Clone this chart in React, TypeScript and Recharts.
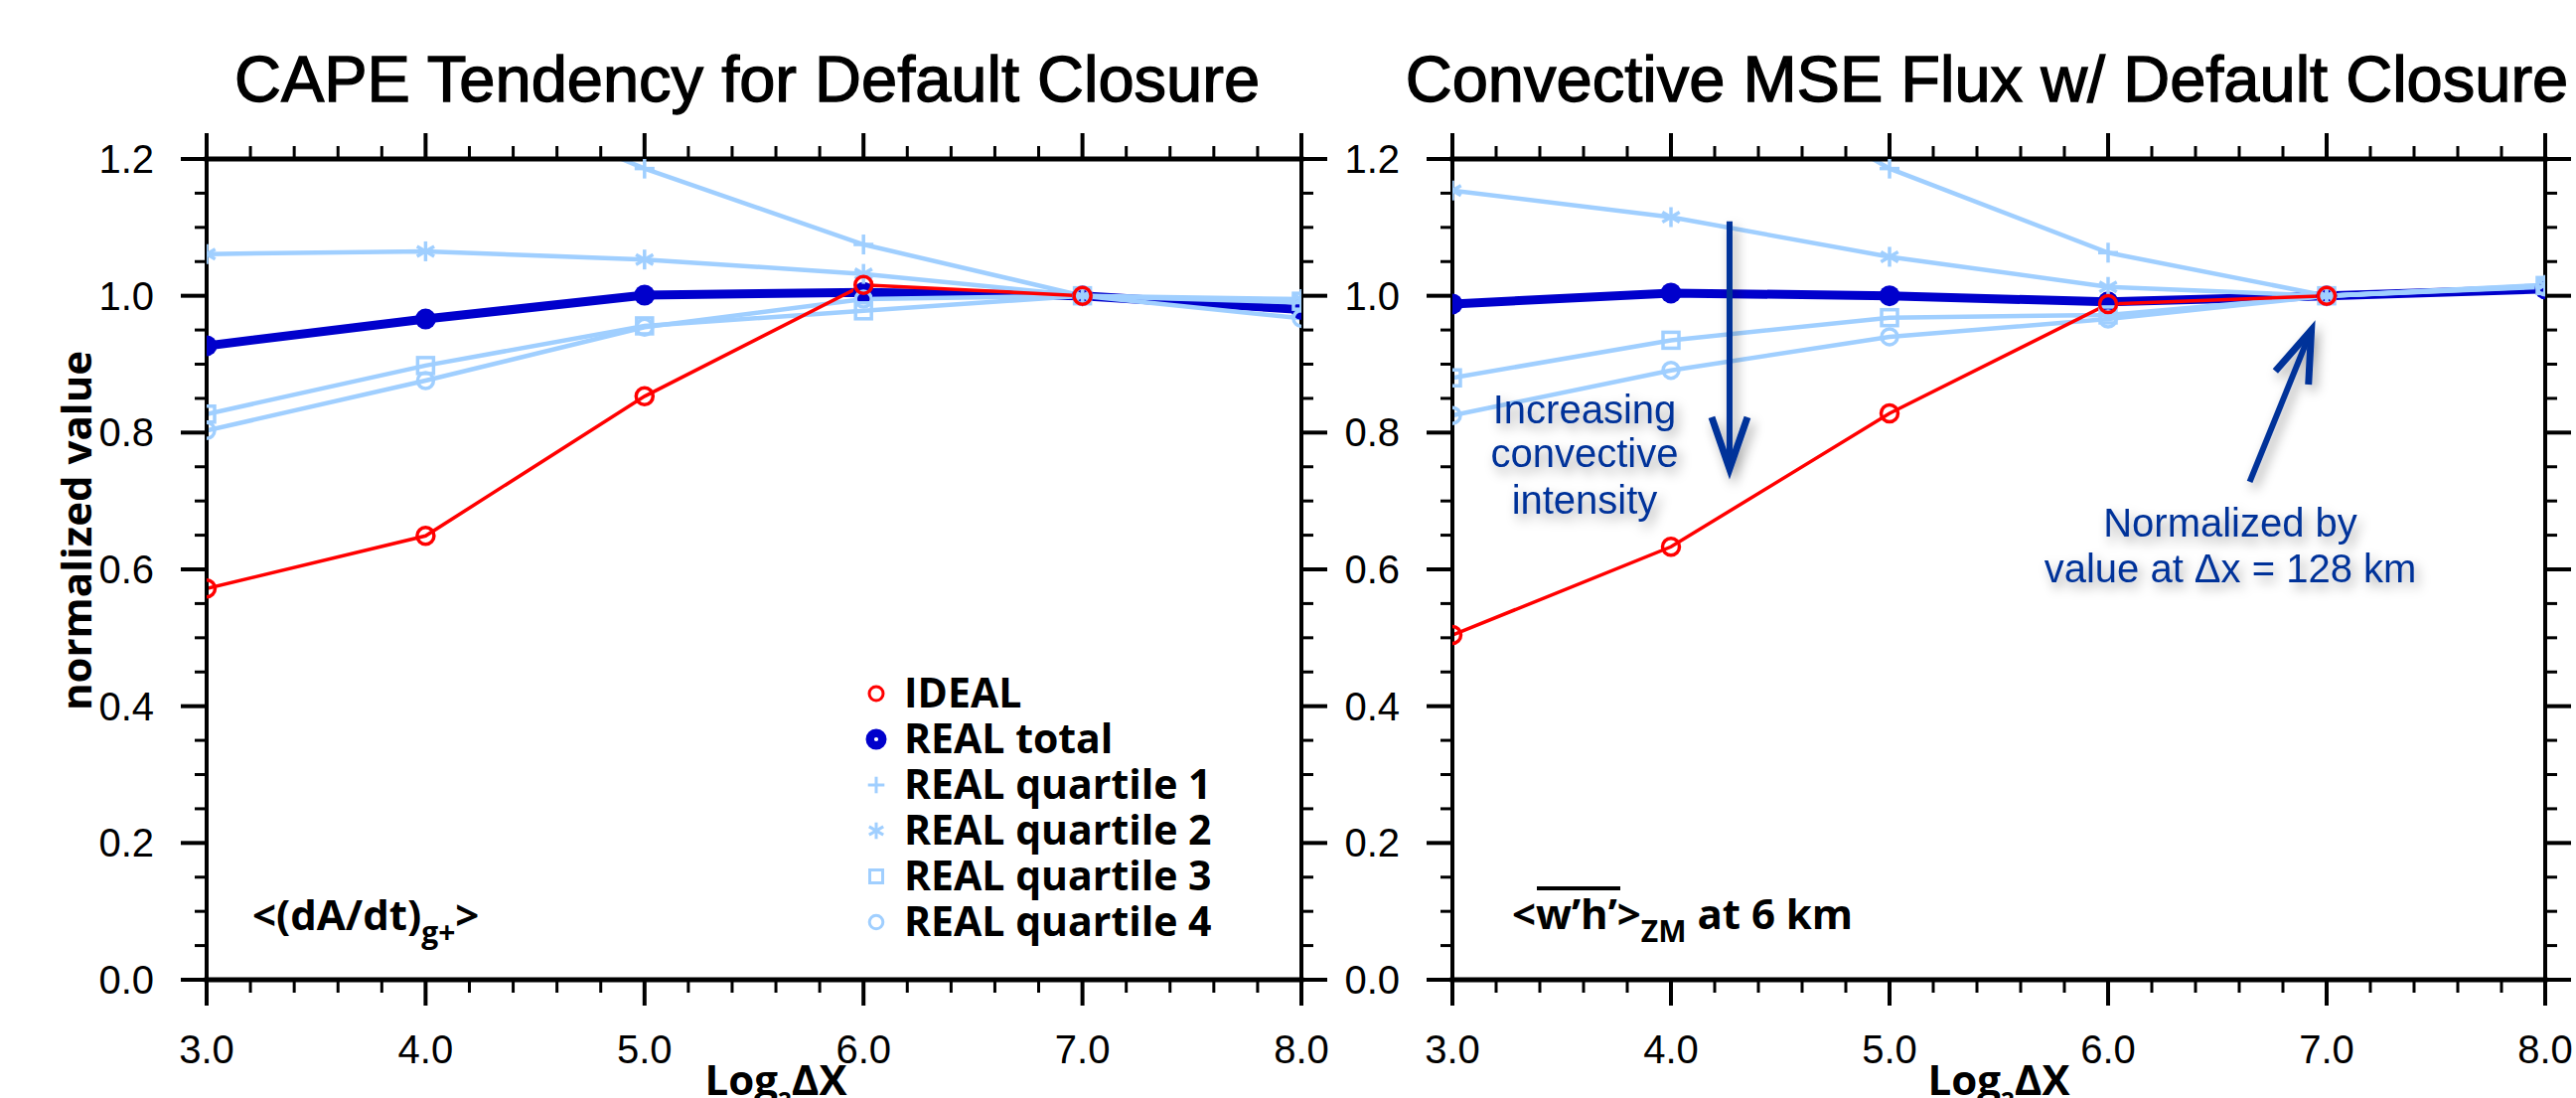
import React from 'react';
import { LineChart, Line, XAxis, YAxis, ReferenceLine } from 'recharts';

// x positions: log2 of grid spacing
const logDx = [3, 4, 5, 6, 7, 8];

// left panel: CAPE tendency
const capeIdeal = [0.572, 0.649, 0.853, 1.016, 1.0, null];
const capeTotal = [0.927, 0.966, 1.001, 1.005, 1.0, 0.98];
const capeQ1 = [1.46, 1.32, 1.186, 1.075, 1.0, 0.99];
const capeQ2 = [1.061, 1.065, 1.053, 1.032, 1.0, 0.995];
const capeQ3 = [0.827, 0.898, 0.956, 0.978, 1.0, 0.992];
const capeQ4 = [0.803, 0.876, 0.954, 0.995, 1.0, 0.967];

// right panel: convective MSE flux
const mseIdeal = [0.504, 0.633, 0.828, 0.988, 1.0, null];
const mseTotal = [0.988, 1.004, 1.0, 0.991, 1.0, 1.01];
const mseQ1 = [1.52, 1.37, 1.186, 1.063, 1.0, 1.014];
const mseQ2 = [1.154, 1.115, 1.057, 1.013, 1.0, 1.016];
const mseQ3 = [0.88, 0.935, 0.968, 0.972, 1.0, 1.015];
const mseQ4 = [0.825, 0.891, 0.94, 0.966, 1.0, 1.013];

const xMajorTicks = [3, 4, 5, 6, 7, 8];
const yMajorTicks = [0, 0.2, 0.4, 0.6, 0.8, 1.0, 1.2];

const seriesKeys = ['ideal', 'total', 'q1', 'q2', 'q3', 'q4'] as const;
const seriesNames = ['IDEAL', 'REAL total', 'REAL quartile 1', 'REAL quartile 2', 'REAL quartile 3', 'REAL quartile 4'];

type Kind = (typeof seriesKeys)[number];

const RED = '#FF0000';
const BLUE = '#0000CC';
const LIGHT = '#A0CFFF';
const NAVY = '#003399';
const SANS = "'Liberation Sans', Arial, Helvetica, sans-serif";
const BOLD = "'Open Sans', 'Noto Sans', sans-serif";

const Y_MAX = 1.2;

function withMinors(major: number[], parts: number) {
  const out: number[] = [];
  major.forEach((m, i) => {
    out.push(m);
    const next = major[i + 1];
    if (next === undefined) return;
    for (let k = 1; k < parts; k++) out.push(+(m + ((next - m) * k) / parts).toFixed(4));
  });
  return out;
}

const xTicks = withMinors(xMajorTicks, 5);
const yTicks = withMinors(yMajorTicks, 4);

const isMajor = (list: number[], v: number) => list.some((m) => Math.abs(m - v) < 1e-6);

function Marker({ kind, cx, cy, legend = false }: { kind: Kind; cx: number; cy: number; legend?: boolean }) {
  const sw = legend ? 3 : 3.5;
  switch (kind) {
    case 'ideal':
      return <circle cx={cx} cy={cy} r={legend ? 7 : 8.5} fill="none" stroke={RED} strokeWidth={sw} />;
    case 'total':
      return legend ? (
        <circle cx={cx} cy={cy} r={6.3} fill="none" stroke={BLUE} strokeWidth={8.4} />
      ) : (
        <circle cx={cx} cy={cy} r={10.5} fill={BLUE} />
      );
    case 'q1': {
      const h = legend ? 8.3 : 10;
      return (
        <g stroke={LIGHT} strokeWidth={sw}>
          <line x1={cx - h} y1={cy} x2={cx + h} y2={cy} />
          <line x1={cx} y1={cy - h} x2={cx} y2={cy + h} />
        </g>
      );
    }
    case 'q2': {
      const h = legend ? 8.3 : 10;
      const c = h * Math.cos(Math.PI / 6);
      const s = h * Math.sin(Math.PI / 6);
      return (
        <g stroke={LIGHT} strokeWidth={sw}>
          <line x1={cx} y1={cy - h} x2={cx} y2={cy + h} />
          <line x1={cx - c} y1={cy - s} x2={cx + c} y2={cy + s} />
          <line x1={cx - c} y1={cy + s} x2={cx + c} y2={cy - s} />
        </g>
      );
    }
    case 'q3': {
      const h = legend ? 6.5 : 8;
      return <rect x={cx - h} y={cy - h} width={2 * h} height={2 * h} fill="none" stroke={LIGHT} strokeWidth={sw} />;
    }
    default:
      return <circle cx={cx} cy={cy} r={legend ? 6.8 : 8} fill="none" stroke={LIGHT} strokeWidth={sw} />;
  }
}

const makeDot = (kind: Kind) => (props: any) => {
  const { cx, cy, value, index } = props;
  const v = Array.isArray(value) ? value[1] : value;
  if (v == null || cx == null || cy == null || v > Y_MAX) return <g key={`${kind}-${index}`} />;
  return (
    <g key={`${kind}-${index}`}>
      <Marker kind={kind} cx={cx} cy={cy} />
    </g>
  );
};

const BottomTick = (props: any) => {
  const { x, y, payload } = props;
  const major = isMajor(xMajorTicks, payload.value);
  return (
    <g>
      <line x1={x} y1={y} x2={x} y2={y + (major ? 26 : 13)} stroke="#000" strokeWidth={major ? 4 : 3} />
      {major && (
        <text x={x} y={y + 84} textAnchor="middle" fontSize={40} fontFamily={SANS} fill="#000">
          {Number(payload.value).toFixed(1)}
        </text>
      )}
    </g>
  );
};

const TopTick = (props: any) => {
  const { x, y, payload } = props;
  const major = isMajor(xMajorTicks, payload.value);
  return <line x1={x} y1={y} x2={x} y2={y - (major ? 26 : 13)} stroke="#000" strokeWidth={major ? 4 : 3} />;
};

const LeftTick = (props: any) => {
  const { x, y, payload } = props;
  const major = isMajor(yMajorTicks, payload.value);
  return (
    <g>
      <line x1={x} y1={y} x2={x - (major ? 26 : 12)} y2={y} stroke="#000" strokeWidth={major ? 4 : 3} />
      {major && (
        <text x={x - 53} y={y + 14} textAnchor="end" fontSize={40} fontFamily={SANS} fill="#000">
          {Number(payload.value).toFixed(1)}
        </text>
      )}
    </g>
  );
};

const RightTick = (props: any) => {
  const { x, y, payload } = props;
  const major = isMajor(yMajorTicks, payload.value);
  return <line x1={x} y1={y} x2={x + (major ? 26 : 12)} y2={y} stroke="#000" strokeWidth={major ? 4 : 3} />;
};

const ArrowShape = (props: any) => {
  const { x1, y1, x2, y2 } = props;
  if ([x1, y1, x2, y2].some((v) => v == null || isNaN(v))) return <g />;
  const len = Math.hypot(x2 - x1, y2 - y1) || 1;
  const ux = (x2 - x1) / len;
  const uy = (y2 - y1) / len;
  const px = -uy;
  const py = ux;
  const hl = 52;
  const hw = 18;
  const bx = x2 - ux * hl;
  const by = y2 - uy * hl;
  return (
    <g filter="url(#softShadow)">
      <line x1={x1} y1={y1} x2={x2 - ux * 6} y2={y2 - uy * 6} stroke={NAVY} strokeWidth={6} />
      <polyline
        points={`${bx + px * hw},${by + py * hw} ${x2},${y2} ${bx - px * hw},${by - py * hw}`}
        fill="none"
        stroke={NAVY}
        strokeWidth={7}
        strokeLinejoin="miter"
      />
    </g>
  );
};

type Series = Record<Kind, (number | null)[]>;

function Panel({
  width,
  margin,
  series,
  children,
}: {
  width: number;
  margin: { top: number; right: number; bottom: number; left: number };
  series: Series;
  children?: React.ReactNode;
}) {
  const rows = logDx.map((x, i) => {
    const row: Record<string, number | null> = { x };
    seriesKeys.forEach((k) => {
      row[k] = series[k][i];
    });
    return row;
  });

  const common = { type: 'number' as const, allowDataOverflow: true, interval: 0 as const, tickSize: 0, tickMargin: 0, tickLine: false };
  const frame = { stroke: '#000', strokeWidth: 5, strokeLinecap: 'square' as const };

  return (
    <LineChart width={width} height={1105} data={rows} margin={margin}>
      <XAxis {...common} dataKey="x" domain={[3, 8]} ticks={xTicks} height={1} axisLine={frame} tick={(p: any) => <BottomTick {...p} />} />
      <XAxis
        {...common}
        xAxisId="top"
        orientation="top"
        dataKey="x"
        domain={[3, 8]}
        ticks={xTicks}
        height={1}
        axisLine={frame}
        tick={(p: any) => <TopTick {...p} />}
      />
      <YAxis
        {...common}
        domain={[0, Y_MAX]}
        ticks={yTicks}
        width={1}
        axisLine={{ ...frame, strokeWidth: 4 }}
        tick={(p: any) => <LeftTick {...p} />}
      />
      <YAxis
        {...common}
        yAxisId="right"
        orientation="right"
        domain={[0, Y_MAX]}
        ticks={yTicks}
        width={1}
        axisLine={{ ...frame, strokeWidth: 4 }}
        tick={(p: any) => <RightTick {...p} />}
      />
      <Line dataKey="total" stroke={BLUE} strokeWidth={9} dot={makeDot('total')} activeDot={false} isAnimationActive={false} />
      <Line dataKey="q1" stroke={LIGHT} strokeWidth={4.5} dot={makeDot('q1')} activeDot={false} isAnimationActive={false} />
      <Line dataKey="q2" stroke={LIGHT} strokeWidth={4.5} dot={makeDot('q2')} activeDot={false} isAnimationActive={false} />
      <Line dataKey="q3" stroke={LIGHT} strokeWidth={4.5} dot={makeDot('q3')} activeDot={false} isAnimationActive={false} />
      <Line dataKey="q4" stroke={LIGHT} strokeWidth={4.5} dot={makeDot('q4')} activeDot={false} isAnimationActive={false} />
      <Line dataKey="ideal" stroke={RED} strokeWidth={3.5} dot={makeDot('ideal')} activeDot={false} isAnimationActive={false} />
      {children}
    </LineChart>
  );
}

const capeSeries: Series = { ideal: capeIdeal, total: capeTotal, q1: capeQ1, q2: capeQ2, q3: capeQ3, q4: capeQ4 };
const mseSeries: Series = { ideal: mseIdeal, total: mseTotal, q1: mseQ1, q2: mseQ2, q3: mseQ3, q4: mseQ4 };

// annotation arrows, in data units of the right panel
const intensityArrow = [
  { x: 4.268, y: 1.109 },
  { x: 4.268, y: 0.747 },
];
const normArrow = [
  { x: 6.648, y: 0.728 },
  { x: 6.93, y: 0.95 },
];

export default function App() {
  const legendTop = 698;
  const legendStep = 46;
  return (
    <div style={{ position: 'absolute', left: 0, top: 0, width: 2593, height: 1105, overflow: 'hidden', background: '#fff' }}>
      <div style={{ position: 'absolute', left: 0, top: 0 }}>
        <Panel width={1340} margin={{ top: 159, right: 29, bottom: 118, left: 207 }} series={capeSeries} />
      </div>
      <div style={{ position: 'absolute', left: 1340, top: 0 }}>
        <Panel width={1253} margin={{ top: 159, right: 30, bottom: 118, left: 121 }} series={mseSeries}>
          <ReferenceLine segment={intensityArrow} shape={ArrowShape} ifOverflow="visible" />
          <ReferenceLine segment={normArrow} shape={ArrowShape} ifOverflow="visible" />
        </Panel>
      </div>

      <svg width={2593} height={1105} style={{ position: 'absolute', left: 0, top: 0, pointerEvents: 'none' }}>
        <defs>
          <filter id="softShadow" x="-50%" y="-50%" width="200%" height="200%">
            <feDropShadow dx="4" dy="6" stdDeviation="6" floodColor="#000" floodOpacity="0.35" />
          </filter>
        </defs>

        <g fontSize={65} fontFamily={SANS} textAnchor="middle" stroke="#000" strokeWidth={1.3}>
          <text x={752} y={102}>CAPE Tendency for Default Closure</text>
          <text x={2000} y={102}>Convective MSE Flux w/ Default Closure</text>
        </g>

        <text transform="translate(92,534) rotate(-90)" textAnchor="middle" fontSize={42} fontWeight={700} fontFamily={BOLD}>
          normalized value
        </text>

        {[781, 2012].map((cx) => (
          <text key={cx} x={cx} y={1102} textAnchor="middle" fontSize={42} fontWeight={700} fontFamily={BOLD}>
            Log
            <tspan fontSize={24} dy={14}>
              2
            </tspan>
            <tspan dy={-14}>ΔX</tspan>
          </text>
        ))}

        {/* legend */}
        {seriesKeys.map((k, i) => (
          <g key={k}>
            <Marker kind={k} cx={882} cy={legendTop + i * legendStep} legend />
            <text x={910} y={legendTop + i * legendStep + 14} fontSize={41} fontWeight={700} fontFamily={BOLD}>
              {seriesNames[i]}
            </text>
          </g>
        ))}

        {/* panel labels */}
        <text x={254} y={936} fontSize={42} fontWeight={700} fontFamily={BOLD}>
          {'<(dA/dt)'}
          <tspan fontSize={30} dy={13}>
            g+
          </tspan>
          <tspan dy={-13}>{'>'}</tspan>
        </text>
        <text x={1522} y={935} fontSize={42} fontWeight={700} fontFamily={BOLD}>
          {'<w’h’>'}
          <tspan fontSize={30} dy={13}>
            ZM
          </tspan>
          <tspan dy={-13}> at 6 km</tspan>
        </text>
        <line x1={1547} y1={894} x2={1631} y2={894} stroke="#000" strokeWidth={4} />

        {/* annotations */}
        <g filter="url(#softShadow)" fill={NAVY} fontSize={40} fontFamily={SANS} textAnchor="middle">
          <text x={1595} y={426}>Increasing</text>
          <text x={1595} y={470}>convective</text>
          <text x={1595} y={517}>intensity</text>
          <text x={2245} y={540}>Normalized by</text>
          <text x={2245} y={586}>value at Δx = 128 km</text>
        </g>
      </svg>
    </div>
  );
}
